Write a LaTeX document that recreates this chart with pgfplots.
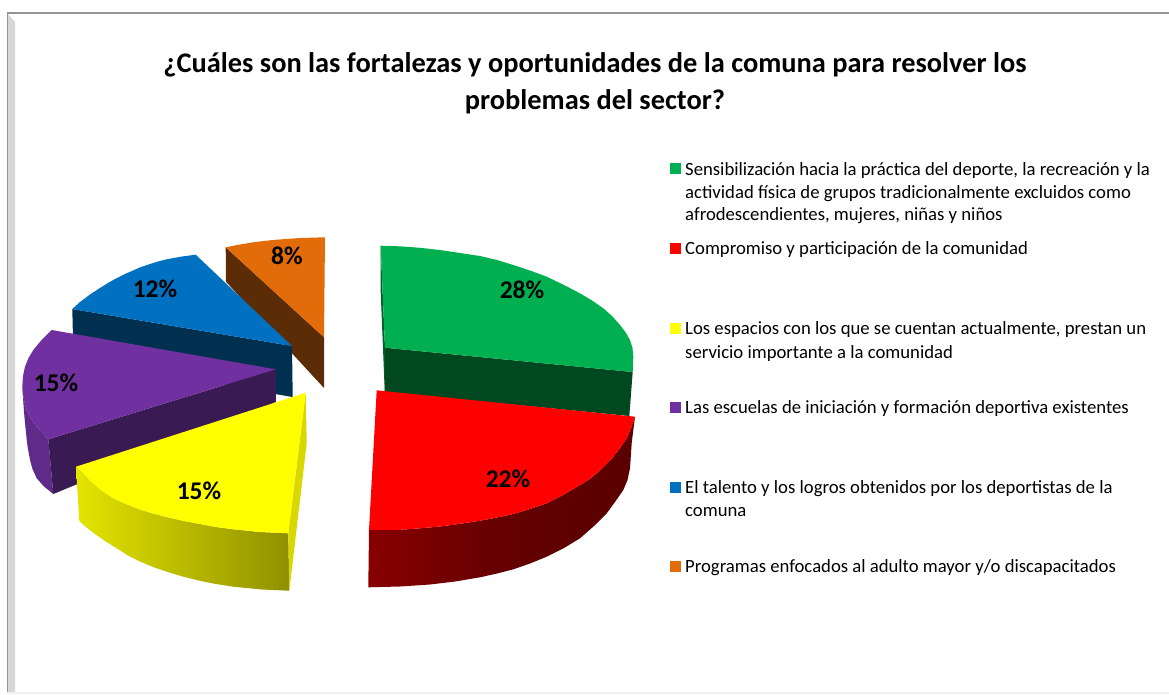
\documentclass[border=0pt]{standalone}
\usepackage{pgfplots}
\pgfplotsset{compat=1.18}
\usepackage{fontspec}
\setmainfont{Carlito}
\definecolor{cG}{HTML}{00B050}\definecolor{cGd}{HTML}{004820}\definecolor{cGe}{HTML}{006030}
\definecolor{cR}{HTML}{FF0000}\definecolor{cRd}{HTML}{5A0000}\definecolor{cRe}{HTML}{880000}\definecolor{cRm}{HTML}{640000}
\definecolor{cY}{HTML}{FFFF00}\definecolor{cYa}{HTML}{E4E400}\definecolor{cYb}{HTML}{909000}\definecolor{cYs}{HTML}{D8D800}
\definecolor{cP}{HTML}{7030A0}\definecolor{cPd}{HTML}{3A1A52}\definecolor{cPo}{HTML}{5F2A88}
\definecolor{cB}{HTML}{0070C0}\definecolor{cBd}{HTML}{003050}
\definecolor{cO}{HTML}{E26B0A}\definecolor{cOd}{HTML}{5C2C06}
\newcommand{\leg}[2]{\node[anchor=base west,inner sep=0pt] at (axis cs:685,#1) {\fontsize{18.7}{22}\selectfont #2};}
\newcommand{\pct}[3]{\node[inner sep=0pt] at (axis cs:#1,#2) {\fontsize{25.5}{30}\selectfont\bfseries #3};}
\newcommand{\swatch}[2]{\addplot[only marks, mark=square*, mark size=5pt, mark options={draw=#1, fill=#1, line width=0pt}, color=#1] coordinates {(675,#2)};}
\begin{document}
\begin{tikzpicture}
\begin{axis}[
  scale only axis, width=1169pt, height=694pt,
  xmin=0, xmax=1169, ymin=0, ymax=694, y dir=reverse,
  axis lines=none, clip=true,
  every axis plot/.append style={forget plot, draw=none, line width=0pt}]
% page
\addplot[fill=white] coordinates {(0,0)(1169,0)(1169,694)(0,694)} -- cycle;
% frame
\addplot[fill=white!84!black] coordinates {(7,13)(15,22)(15,692)(7,692)} -- cycle;
\addplot[fill=black!6] coordinates {(7,692)(1169,692)(1169,694)(7,694)} -- cycle;
\addplot[draw=black!42, line width=1.4pt] coordinates {(7.5,692)(7.5,12.8)(1169,12.8)};
% orange
\addplot[fill=cOd] coordinates {(225.7,247.3)(226,281.7)(324,388)(324,337.3)} -- cycle;
\addplot[fill=cO] coordinates {(225.7,247.3)(240,244.5)(255,242)(275,239.8)(300,238)(325,237.3)(324,337.3)} -- cycle;
% blue
\addplot[fill=cBd] coordinates {(72.3,309)(292,346)(292.7,397)(73.5,360)} -- cycle;
\addplot[fill=cB] coordinates {(72.3,309)(80,302)(90,294.5)(100,288)(108,283)(116,278.5)(125,274)(133,270.5)(141,267)(150,264)(158,261.5)(166.7,259.3)(182,256.5)(195.7,254.7)(292,346)} -- cycle;
% purple
\addplot[fill=cPo] coordinates {(22.3,386.7)(23.5,398)(26.7,410)(31,419)(36.7,426.7)(48.3,439.3)(53.3,494)(44,486.5)(36.7,478.3)(32.5,469)(30,460)(27.5,446)(26,433)(24,412)(22.5,390)} -- cycle;
\addplot[fill=cPd] coordinates {(48.3,439.3)(275.7,369.3)(276,402)(53.3,494)} -- cycle;
\addplot[fill=cP] coordinates {(51.7,330)(42,339.5)(33.3,350)(28.5,358)(25,366.7)(23,376)(22.3,386.7)(23.5,398)(26.7,410)(31,419)(36.7,426.7)(48.3,439.3)(275.7,369.3)} -- cycle;
% yellow
\addplot[left color=cYa, right color=cYb] coordinates {(76,466.7)(83,474)(90,480.5)(101,490)(113.3,498.3)(126,504)(140,509.5)(153,513.5)(166.7,517)(183,520.8)(200,524)(216,527)(233.3,529.3)(260,532)(288.3,533.3)(289.3,590.7)(262,589.5)(233.3,586.7)(216,584)(200,580.8)(183,576.6)(166.7,571.7)(153,567)(140,561.5)(128,555.5)(116.7,548.3)(105,541)(95,534)(86,527)(79.3,521)} -- cycle;
\addplot[fill=cYs] coordinates {(305.7,392.7)(306.7,443.3)(289.3,590.7)(288.3,533.3)} -- cycle;
\addplot[fill=cY] coordinates {(76,466.7)(83,474)(90,480.5)(101,490)(113.3,498.3)(126,504)(140,509.5)(153,513.5)(166.7,517)(183,520.8)(200,524)(216,527)(233.3,529.3)(260,532)(288.3,533.3)(305.7,392.7)} -- cycle;
% green
\addplot[fill=cGe] coordinates {(380.7,245.7)(385,347.7)(384.7,390.7)(380.7,291.7)} -- cycle;
\addplot[fill=cGd] coordinates {(385,347.7)(632.7,372)(629.3,416)(384.7,392)} -- cycle;
\addplot[fill=cG] coordinates {(380.7,245.7)(400,246.3)(420,247.8)(440,250)(460,253)(480,256)(497,260)(513.3,265)(530,270.5)(546.7,276.7)(563,284.5)(580,293.3)(592,300.5)(603.3,308.3)(612,316)(620,325)(626,333)(630,340)(632.5,348)(633.3,356.7)(632.7,372)(385,347.7)} -- cycle;
% red
\addplot[left color=cRe, right color=cRd, middle color=cRm] coordinates {(369,530)(400,529.8)(420,528.3)(440,526.5)(460,523.8)(480,520.7)(497,517.5)(513.3,514)(530,509)(546.7,503.3)(563,495)(580,485)(589,479.5)(596.7,473.3)(605,465.5)(613.3,456.7)(620,448)(626.7,438.3)(631,428)(635,416.7)(631.7,443)(630,468.3)(627.5,480)(623.3,490)(615,502)(606.7,513.3)(594,526)(580,538.3)(564,548)(546.7,556.7)(530,563.5)(513.3,569.3)(497,573.5)(480,577.3)(455,581.5)(430,584.5)(400,586.5)(368.3,587.3)} -- cycle;
\addplot[fill=cR] coordinates {(376.7,390.3)(635,416.7)(631,428)(626.7,438.3)(620,448)(613.3,456.7)(605,465.5)(596.7,473.3)(589,479.5)(580,485)(563,495)(546.7,503.3)(530,509)(513.3,514)(497,517.5)(480,520.7)(460,523.8)(440,526.5)(420,528.3)(400,529.8)(369,530)} -- cycle;
% legend markers
\swatch{cG}{168}
\swatch{cR}{248}
\swatch{cY}{328}
\swatch{cP}{407}
\swatch{cB}{487}
\swatch{cO}{566}
% title
\node[anchor=base,inner sep=0pt] at (axis cs:595,72) {\fontsize{28.4}{34}\selectfont\bfseries ¿Cuáles son las fortalezas y oportunidades de la comuna para resolver los};
\node[anchor=base,inner sep=0pt] at (axis cs:595,109) {\fontsize{28.4}{34}\selectfont\bfseries problemas del sector?};
% legend
\leg{175}{Sensibilización hacia la práctica del deporte, la recreación y la}
\leg{198}{actividad física de grupos tradicionalmente excluidos como}
\leg{220}{afrodescendientes, mujeres, niñas y niños}
\leg{254}{Compromiso y participación de la comunidad}
\leg{334}{Los espacios con los que se cuentan actualmente, prestan un}
\leg{358}{servicio importante a la comunidad}
\leg{413}{Las escuelas de iniciación y formación deportiva existentes}
\leg{493}{El talento y los logros obtenidos por los deportistas de la}
\leg{516}{comuna}
\leg{572}{Programas enfocados al adulto mayor y/o discapacitados}
% labels
\pct{522}{290}{28\%}
\pct{508}{479}{22\%}
\pct{199}{491}{15\%}
\pct{56}{383}{15\%}
\pct{155}{289}{12\%}
\pct{287}{256}{8\%}
\end{axis}
\end{tikzpicture}
\end{document}
